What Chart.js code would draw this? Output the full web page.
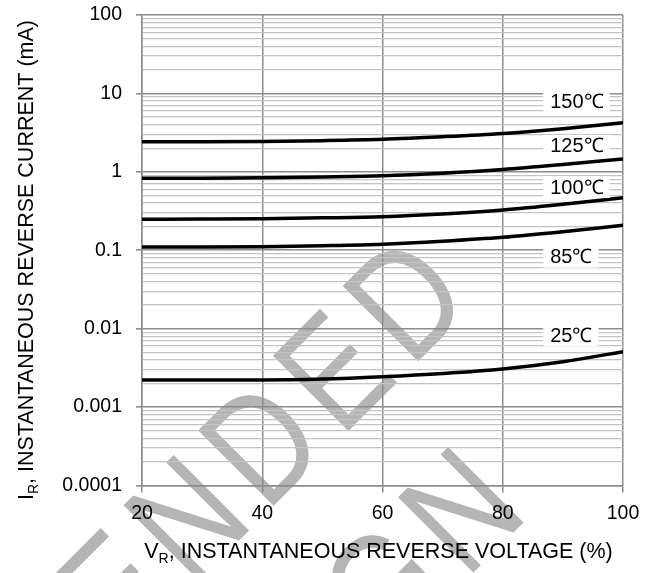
<!DOCTYPE html>
<html>
<head>
<meta charset="utf-8">
<script src="https://cdn.jsdelivr.net/npm/chart.js@4.4.1/dist/chart.umd.min.js"></script>
<style>
  html, body { margin: 0; padding: 0; background: #ffffff; }
  canvas { display: block; }
</style>
</head>
<body>
<canvas id="chart" width="658" height="573"></canvas>
<script>
// Reverse voltage, % of rated
const voltagePct = [20, 30, 40, 50, 60, 70, 80, 90, 100];

// Instantaneous reverse current (mA) per junction temperature
const current150C = [2.42, 2.42, 2.44, 2.50, 2.60, 2.80, 3.08, 3.55, 4.23];
const current125C = [0.83, 0.83, 0.84, 0.86, 0.89, 0.96, 1.07, 1.24, 1.46];
const current100C = [0.248, 0.250, 0.253, 0.259, 0.268, 0.290, 0.325, 0.385, 0.468];
const current85C  = [0.110, 0.110, 0.111, 0.114, 0.119, 0.130, 0.146, 0.172, 0.208];
const current25C  = [0.00222, 0.00222, 0.00222, 0.00228, 0.00244, 0.00268, 0.00306, 0.00378, 0.00509];

const seriesNames = ['150℃', '125℃', '100℃', '85℃', '25℃'];
const seriesValues = [current150C, current125C, current100C, current85C, current25C];

// Axis ticks
const xTicks = [20, 40, 60, 80, 100];
const yDecades = [0.0001, 0.001, 0.01, 0.1, 1, 10, 100];

const FONT = '"Liberation Sans", Arial, Helvetica, sans-serif';
const MAJOR_GRID = '#8c8c8c';
const MINOR_GRID = '#c3c3c3';

function isDecade(v) {
  const l = Math.log10(v);
  return Math.abs(l - Math.round(l)) < 1e-6;
}

// Tag placement for each curve (data coordinates)
const tagPlacement = { x: 87.9, y: [7.8, 2.14, 0.64, 0.0828, 0.0083] };

const backgroundAndMark = {
  id: 'backgroundAndMark',
  beforeDraw(chart) {
    const ctx = chart.ctx;
    ctx.save();
    ctx.fillStyle = '#ffffff';
    ctx.fillRect(0, 0, chart.width, chart.height);

    // diagonal status stamp behind the plot, slightly condensed and tracked out
    const size = 155, spacing = 17, squeeze = 0.82;
    const line1 = 'NOT RECOMMENDED', line2 = 'FOR NEW DESIGN';
    ctx.translate(404, 297);
    ctx.rotate(-Math.PI / 4);
    ctx.scale(squeeze, 1);
    ctx.font = size + 'px ' + FONT;
    ctx.fillStyle = '#b5b5b5';
    ctx.textAlign = 'left';
    ctx.textBaseline = 'alphabetic';
    const halfCap = 0.716 * size / 2;
    const lastCenter = (s) => {
      ctx.letterSpacing = '0px';
      const half = ctx.measureText(s.slice(-1)).width / 2;
      ctx.letterSpacing = spacing + 'px';
      return ctx.measureText(s.slice(0, -1)).width + half;
    };
    const c1 = lastCenter(line1);
    const c2 = lastCenter(line2);
    ctx.letterSpacing = spacing + 'px';
    ctx.fillText(line1, -c1, halfCap);
    ctx.fillText(line2, -110.5 / squeeze - c2, halfCap + 188.5);
    ctx.restore();
  }
};

const curveTags = {
  id: 'curveTags',
  afterDatasetsDraw(chart) {
    const ctx = chart.ctx;
    const xs = chart.scales.x, ys = chart.scales.y;
    ctx.save();
    ctx.font = '20px ' + FONT;
    ctx.textBaseline = 'middle';
    ctx.textAlign = 'left';
    seriesNames.forEach((name, i) => {
      const px = xs.getPixelForValue(tagPlacement.x);
      const py = ys.getPixelForValue(tagPlacement.y[i]);
      const w = ctx.measureText(name).width;
      ctx.fillStyle = '#ffffff';
      ctx.fillRect(px - 7, py - 11, w + 13, 22);
      ctx.fillStyle = '#000000';
      ctx.fillText(name, px, py + 1);
    });
    ctx.restore();
  }
};

function drawWithSubscript(ctx, parts, x, y, align) {
  const main = '21.5px ' + FONT, small = '14px ' + FONT;
  let total = 0;
  parts.forEach(p => { ctx.font = p.sub ? small : main; p.w = ctx.measureText(p.text).width; total += p.w; });
  let cx = align === 'center' ? x - total / 2 : x;
  ctx.textAlign = 'left';
  ctx.textBaseline = 'alphabetic';
  parts.forEach(p => {
    ctx.font = p.sub ? small : main;
    ctx.fillText(p.text, cx, y + (p.sub ? 5 : 0));
    cx += p.w;
  });
}

const axisTitles = {
  id: 'axisTitles',
  afterDraw(chart) {
    const ctx = chart.ctx;
    const area = chart.chartArea;
    ctx.save();
    ctx.fillStyle = '#000000';
    drawWithSubscript(ctx, [
      { text: 'V' }, { text: 'R', sub: true }, { text: ', INSTANTANEOUS REVERSE VOLTAGE (%)' }
    ], (area.left + area.right) / 2 - 4, 558, 'center');
    ctx.restore();

    ctx.save();
    ctx.fillStyle = '#000000';
    ctx.translate(32.5, 260);
    ctx.rotate(-Math.PI / 2);
    drawWithSubscript(ctx, [
      { text: 'I' }, { text: 'R', sub: true }, { text: ', INSTANTANEOUS REVERSE CURRENT (mA)' }
    ], 0, 0, 'center');
    ctx.restore();
  }
};

const datasets = seriesNames.map((name, i) => ({
  label: name,
  data: voltagePct.map((v, j) => ({ x: v, y: seriesValues[i][j] })),
  borderColor: '#000000',
  borderWidth: 3.5,
  pointRadius: 0,
  fill: false,
  cubicInterpolationMode: 'monotone'
}));

new Chart(document.getElementById('chart'), {
  type: 'line',
  data: { datasets },
  plugins: [backgroundAndMark, curveTags, axisTitles],
  options: {
    responsive: false,
    animation: false,
    devicePixelRatio: 1,
    layout: { padding: { left: 0, top: 15, right: 35, bottom: 0 } },
    plugins: { legend: { display: false }, tooltip: { enabled: false }, title: { display: false } },
    scales: {
      x: {
        type: 'linear',
        min: 20,
        max: 100,
        afterBuildTicks(scale) { scale.ticks = xTicks.map(v => ({ value: v })); },
        afterFit(scale) { scale.height = 87.5; },
        ticks: { color: '#000000', font: { family: FONT, size: 19.5 }, padding: 9, maxRotation: 0 },
        grid: { color: MAJOR_GRID, lineWidth: 1.5, tickLength: 7, tickColor: MAJOR_GRID },
        border: { display: true, color: MAJOR_GRID, width: 1.5 }
      },
      y: {
        type: 'logarithmic',
        min: 0.0001,
        max: 100,
        afterBuildTicks(scale) {
          const ticks = [];
          yDecades.forEach(d => {
            for (let m = 1; m <= 9; m++) {
              const v = parseFloat((m * d).toPrecision(3));
              if (v > 100) break;
              ticks.push({ value: v });
            }
          });
          scale.ticks = ticks;
        },
        afterFit(scale) {
          scale.width = 142;
          scale.paddingTop = 0;
          scale.paddingBottom = 0;
        },
        ticks: {
          autoSkip: false,
          color: '#000000',
          font: { family: FONT, size: 19.5 },
          padding: 14,
          callback: (v) => isDecade(v) ? String(v) : ''
        },
        grid: {
          color: (c) => isDecade(c.tick.value) ? MAJOR_GRID : MINOR_GRID,
          lineWidth: (c) => isDecade(c.tick.value) ? 1.6 : 1.2,
          tickColor: (c) => isDecade(c.tick.value) ? MAJOR_GRID : 'rgba(0,0,0,0)',
          tickLength: 6
        },
        border: { display: true, color: MAJOR_GRID, width: 1.5 }
      }
    }
  }
});
</script>
</body>
</html>
